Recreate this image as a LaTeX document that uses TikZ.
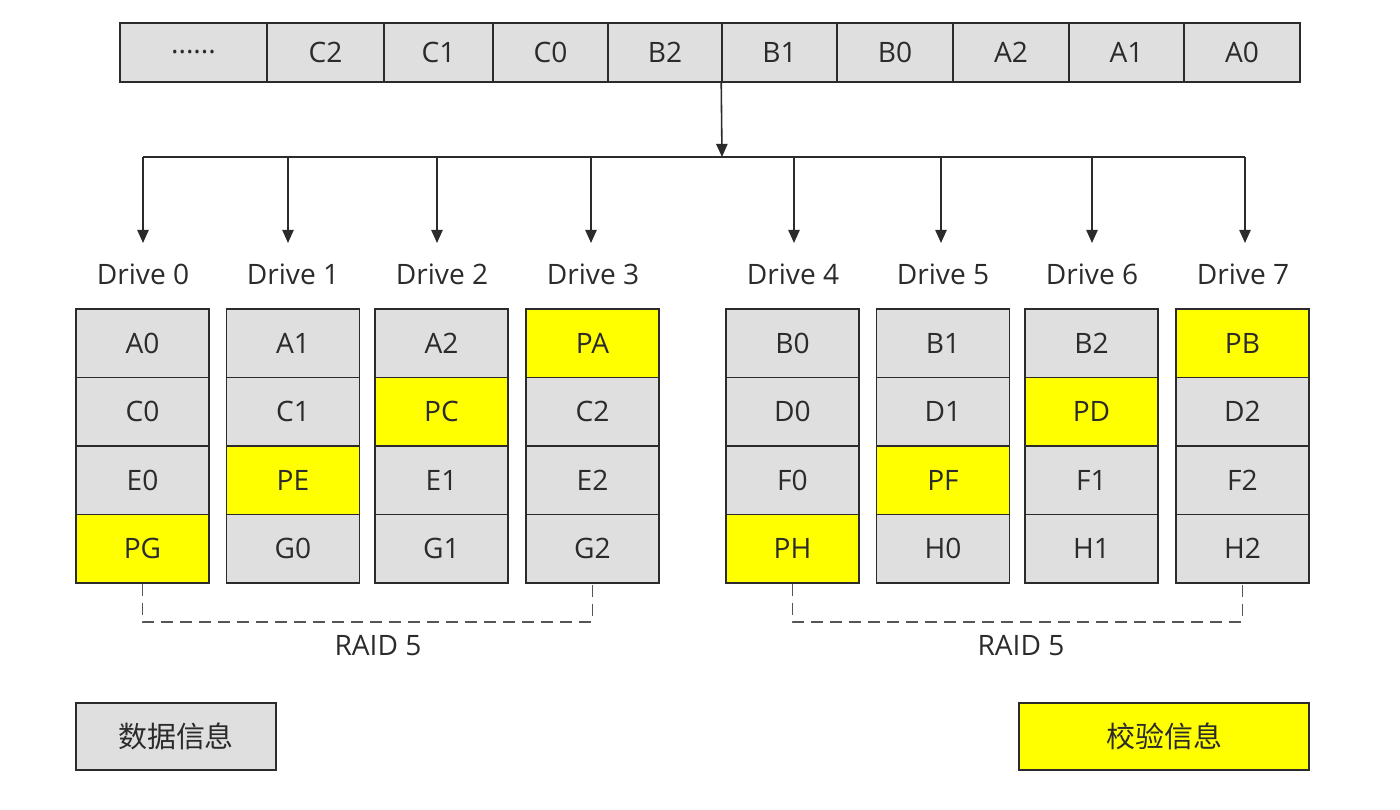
\documentclass[tikz,border=0pt]{standalone}
\usepackage{fontspec}
\setmainfont{Open Sans}
\newfontfamily\cjk{Noto Sans CJK SC}
\usetikzlibrary{arrows.meta}
\definecolor{edge}{HTML}{2B2B2B}
\definecolor{datagray}{HTML}{DFDFDF}
\definecolor{paryellow}{HTML}{FFFF00}
\tikzset{
  cell/.style={draw=edge, line width=0.9pt, fill=datagray, text=edge, inner sep=0pt,
    minimum width=2.66cm, minimum height=1.37cm, font=\fontsize{16}{19}\selectfont},
  par/.style={cell, fill=paryellow},
  topcell/.style={cell, minimum height=1.18cm},
  lab/.style={text=edge, font=\fontsize{16}{19}\selectfont},
  arr/.style={draw=edge, line width=0.9pt, -{Triangle[width=6.5pt,length=7.5pt]}},
  grp/.style={draw=edge!80, line width=1pt, dash pattern=on 0.24cm off 0.14cm}
}
\begin{document}
\begin{tikzpicture}[x=0.02cm,y=-0.02cm]
\useasboundingbox (0,0) rectangle (1400,810);
\node[topcell, minimum width=2.94cm] (tdots) at (193.5,52.5) {......};
\node[topcell, minimum width=2.34cm] (tc2) at (325.5,52.5) {C2};
\node[topcell, minimum width=2.18cm] (tc1) at (438.5,52.5) {C1};
\node[topcell, minimum width=2.30cm] (tc0) at (550.5,52.5) {C0};
\node[topcell, minimum width=2.28cm] (tb2) at (665,52.5) {B2};
\node[topcell, minimum width=2.30cm] (tb1) at (779.5,52.5) {B1};
\node[topcell, minimum width=2.32cm] (tb0) at (895,52.5) {B0};
\node[topcell, minimum width=2.32cm] (ta2) at (1011,52.5) {A2};
\node[topcell, minimum width=2.30cm] (ta1) at (1126.5,52.5) {A1};
\node[topcell, minimum width=2.32cm] (ta0) at (1242,52.5) {A0};

\coordinate (src) at (tb1.south west);
\coordinate (bus) at (722,157);
\coordinate (bus0) at (143,157);
\coordinate (bus1) at (288,157);
\coordinate (bus2) at (437,157);
\coordinate (bus3) at (591,157);
\coordinate (bus4) at (794,157);
\coordinate (bus5) at (941,157);
\coordinate (bus6) at (1092,157);
\coordinate (bus7) at (1245,157);
\coordinate (tip0) at (143,243);
\coordinate (tip1) at (288,243);
\coordinate (tip2) at (437,243);
\coordinate (tip3) at (591,243);
\coordinate (tip4) at (794,243);
\coordinate (tip5) at (941,243);
\coordinate (tip6) at (1092,243);
\coordinate (tip7) at (1245,243);
\draw[arr] (src) -- (bus);
\draw[draw=edge, line width=0.9pt] (bus0) -- (bus7);
\draw[arr] (bus0) -- (tip0);
\draw[arr] (bus1) -- (tip1);
\draw[arr] (bus2) -- (tip2);
\draw[arr] (bus3) -- (tip3);
\draw[arr] (bus4) -- (tip4);
\draw[arr] (bus5) -- (tip5);
\draw[arr] (bus6) -- (tip6);
\draw[arr] (bus7) -- (tip7);

\node[lab] (drv0) at (143,274) {Drive 0};
\node[lab] (drv1) at (293,274) {Drive 1};
\node[lab] (drv2) at (442,274) {Drive 2};
\node[lab] (drv3) at (593,274) {Drive 3};
\node[lab] (drv4) at (793,274) {Drive 4};
\node[lab] (drv5) at (943,274) {Drive 5};
\node[lab] (drv6) at (1092,274) {Drive 6};
\node[lab] (drv7) at (1243,274) {Drive 7};

\node[cell] (a0) at (142.5,343.25) {A0};
\node[cell] (c0) at (142.5,411.75) {C0};
\node[cell] (e0) at (142.5,480.25) {E0};
\node[par] (pg) at (142.5,548.75) {PG};

\node[cell] (a1) at (293,343.25) {A1};
\node[cell] (c1) at (293,411.75) {C1};
\node[par] (pe) at (293,480.25) {PE};
\node[cell] (g0) at (293,548.75) {G0};

\node[cell] (a2) at (441.5,343.25) {A2};
\node[par] (pc) at (441.5,411.75) {PC};
\node[cell] (e1) at (441.5,480.25) {E1};
\node[cell] (g1) at (441.5,548.75) {G1};

\node[par] (pa) at (592.5,343.25) {PA};
\node[cell] (c2) at (592.5,411.75) {C2};
\node[cell] (e2) at (592.5,480.25) {E2};
\node[cell] (g2) at (592.5,548.75) {G2};

\node[cell] (b0) at (792.5,343.25) {B0};
\node[cell] (d0) at (792.5,411.75) {D0};
\node[cell] (f0) at (792.5,480.25) {F0};
\node[par] (ph) at (792.5,548.75) {PH};

\node[cell] (b1) at (943,343.25) {B1};
\node[cell] (d1) at (943,411.75) {D1};
\node[par] (pf) at (943,480.25) {PF};
\node[cell] (h0) at (943,548.75) {H0};

\node[cell] (b2) at (1091.5,343.25) {B2};
\node[par] (pd) at (1091.5,411.75) {PD};
\node[cell] (f1) at (1091.5,480.25) {F1};
\node[cell] (h1) at (1091.5,548.75) {H1};

\node[par] (pb) at (1242.5,343.25) {PB};
\node[cell] (d2) at (1242.5,411.75) {D2};
\node[cell] (f2) at (1242.5,480.25) {F2};
\node[cell] (h2) at (1242.5,548.75) {H2};

\draw[grp] (pg.south) -- ++(0,38) -| (g2.south);
\draw[grp] (ph.south) -- ++(0,38) -| (h2.south);
\node[lab] (raid0) at (378,646) {RAID 5};
\node[lab] (raid1) at (1021,646) {RAID 5};

\node[cell, minimum width=4cm, minimum height=1.34cm, font=\cjk\fontsize{16.5}{19}\selectfont] (keydata) at (176,736.5) {数据信息};
\node[par, minimum width=5.8cm, minimum height=1.34cm, font=\cjk\fontsize{16.5}{19}\selectfont] (keypar) at (1164,736.5) {校验信息};
\end{tikzpicture}
\end{document}
